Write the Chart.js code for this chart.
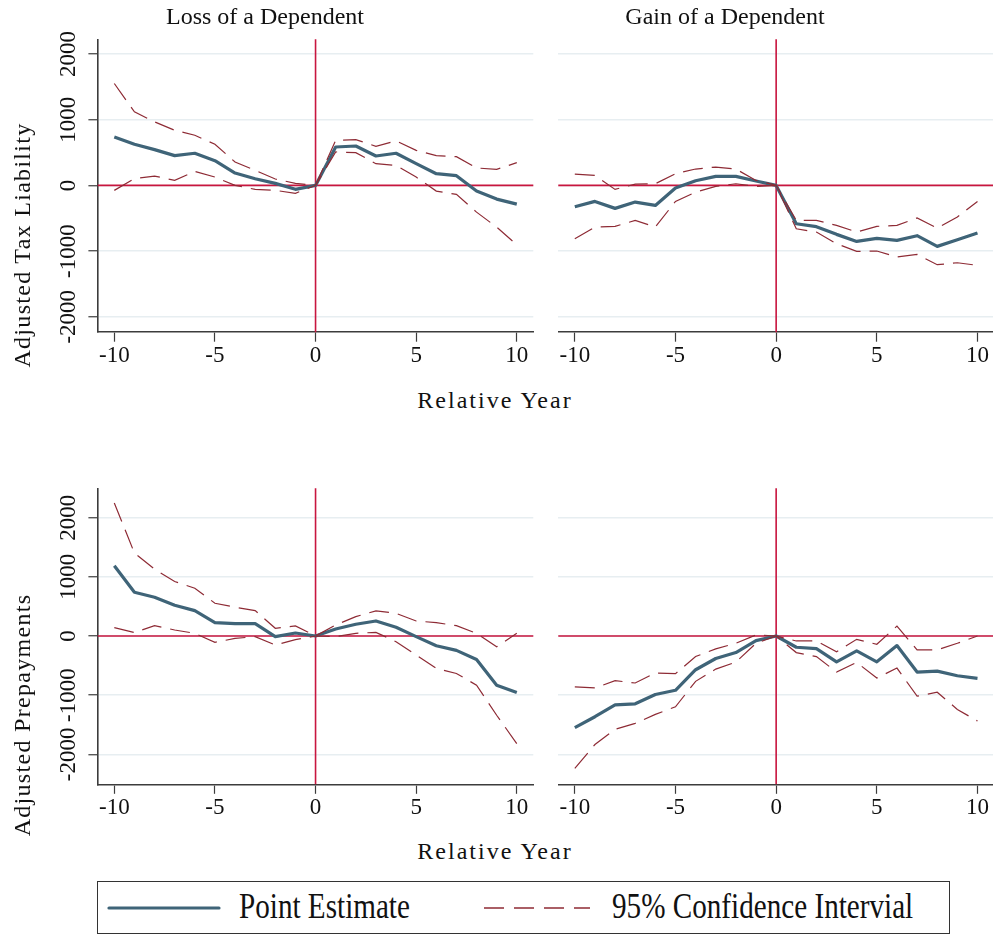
<!DOCTYPE html>
<html lang="en">
<head>
<meta charset="UTF-8" />
<title>Adjusted Tax Liability and Prepayments</title>
<script src="https://cdn.jsdelivr.net/npm/chart.js"></script>
<style>
  body { margin: 0; background: #fff; }
  #page { position: relative; width: 993px; height: 934px; overflow: hidden; font-family: "Liberation Serif", serif; color: #111; }
  canvas { position: absolute; }
  .txt { position: absolute; white-space: nowrap; font-size: 24px; line-height: 24px; text-align: center; }
  .ytitle { width: 320px; transform: rotate(-90deg); letter-spacing: 1.3px; }
  .xtitle { width: 300px; letter-spacing: 2px; }
  #legend { position: absolute; left: 97px; top: 881px; width: 853px; height: 53px; border: 1.3px solid #333; box-sizing: border-box; }
  #legend svg { position: absolute; left: 0; top: 0; }
  .leg { position: absolute; font-size: 36px; line-height: 36px; white-space: nowrap; transform: scaleX(0.81); transform-origin: left center; }
</style>
</head>
<body>
<div id="page">
  <canvas id="lossTax"></canvas>
  <canvas id="gainTax"></canvas>
  <canvas id="lossPre"></canvas>
  <canvas id="gainPre"></canvas>

  <div class="txt" style="left:65px; top:4px; width:400px;">Loss of a Dependent</div>
  <div class="txt" style="left:525px; top:4px; width:400px;">Gain of a Dependent</div>
  <div class="txt xtitle" style="left:345px; top:388px;">Relative Year</div>
  <div class="txt xtitle" style="left:345px; top:839px;">Relative Year</div>
  <div class="txt ytitle" style="left:-138px; top:233px;">Adjusted Tax Liability</div>
  <div class="txt ytitle" style="left:-138px; top:703px;">Adjusted Prepayments</div>

  <div id="legend">
    <svg width="853" height="53">
      <line x1="11" y1="26" x2="121" y2="26" stroke="#3f6478" stroke-width="3.2" stroke-linecap="round"/>
      <line x1="386" y1="26" x2="492" y2="26" stroke="#8e2b35" stroke-width="1.3" stroke-dasharray="20 10"/>
    </svg>
    <span class="leg" style="left:141px; top:6px;">Point Estimate</span>
    <span class="leg" style="left:514px; top:6px;">95% Confidence Intervial</span>
  </div>
</div>

<script>
  // relative years
  const years = [-10, -9, -8, -7, -6, -5, -4, -3, -2, -1, 0, 1, 2, 3, 4, 5, 6, 7, 8, 9, 10];
  const xTicks = [-10, -5, 0, 5, 10];
  const yTicks = [-2000, -1000, 0, 1000, 2000];

  // Loss of a dependent, tax liability
  const lossTaxEst = [738, 626, 545, 453, 489, 377, 188, 102, 31, -60, 0, 585, 600, 448, 489, 331, 178, 148, -87, -209, -285];
  const lossTaxHi  = [1552, 1120, 967, 840, 763, 626, 356, 229, 97, 32, 0, 687, 697, 595, 677, 534, 453, 438, 265, 244, 346];
  const lossTaxLo  = [-76, 102, 142, 76, 214, 127, 0, -61, -76, -120, 0, 509, 499, 331, 305, 127, -87, -137, -407, -636, -906];

  // Gain of a dependent, tax liability
  const gainTaxEst = [-325, -244, -350, -254, -305, -41, 71, 137, 137, 66, 0, -584, -629, -746, -853, -807, -838, -766, -929, -827, -726];
  const gainTaxHi  = [173, 152, -61, 20, 25, 178, 249, 279, 249, 76, 0, -533, -533, -609, -711, -624, -609, -497, -650, -482, -244];
  const gainTaxLo  = [-812, -635, -624, -533, -635, -244, -102, -15, 25, -15, 0, -660, -711, -888, -1005, -1000, -1091, -1051, -1208, -1178, -1218];

  // Loss of a dependent, prepayments
  const lossPreEst = [1186, 740, 655, 520, 429, 226, 209, 209, -11, 51, 0, 119, 198, 254, 147, -11, -164, -243, -396, -831, -955];
  const lossPreHi  = [2249, 1401, 1130, 921, 808, 554, 486, 429, 130, 170, 0, 186, 328, 424, 384, 254, 226, 175, 45, -181, 45];
  const lossPreLo  = [141, 57, 175, 102, 45, -107, -40, -11, -153, -62, 0, -11, 45, 62, -96, -322, -548, -633, -831, -1339, -1819];

  // Gain of a dependent, prepayments
  const gainPreEst = [-1548, -1364, -1163, -1146, -989, -917, -570, -380, -280, -78, 0, -190, -212, -436, -252, -436, -162, -609, -593, -671, -716];
  const gainPreHi  = [-861, -878, -755, -794, -626, -637, -347, -218, -123, 17, 0, -84, -84, -268, -56, -140, 168, -235, -235, -123, 0];
  const gainPreLo  = [-2236, -1834, -1576, -1476, -1325, -1196, -766, -559, -442, -123, 0, -280, -347, -609, -447, -710, -542, -1017, -950, -1241, -1437];

  const estColor = '#3f6478';
  const ciColor = '#8e2b35';
  const refColor = '#c8163f';
  const gridColor = '#e7eef1';
  const axisColor = '#3c3c3c';
  const tickFont = { family: 'Liberation Serif', size: 23 };

  // red lines at zero on both axes
  const zeroLines = {
    id: 'zeroLines',
    beforeDatasetsDraw(chart) {
      const { ctx, chartArea: a, scales: { x, y } } = chart;
      const x0 = x.getPixelForValue(0);
      const y0 = y.getPixelForValue(0);
      ctx.save();
      ctx.strokeStyle = refColor;
      ctx.lineWidth = 1.6;
      ctx.beginPath();
      ctx.moveTo(x0, a.top); ctx.lineTo(x0, a.bottom);
      ctx.moveTo(a.left, y0); ctx.lineTo(a.right, y0);
      ctx.stroke();
      ctx.restore();
    }
  };

  function points(vals) {
    return years.map((yr, i) => ({ x: yr, y: vals[i] }));
  }

  function makePanel(id, est, hi, lo, box) {
    const cv = document.getElementById(id);
    cv.width = box.w; cv.height = box.h;
    cv.style.left = box.x + 'px'; cv.style.top = box.y + 'px';

    const ci = vals => ({
      data: points(vals), borderColor: ciColor, borderWidth: 1.2,
      borderDash: [20, 9], pointRadius: 0, tension: 0
    });

    new Chart(cv, {
      type: 'line',
      data: {
        datasets: [
          ci(hi),
          ci(lo),
          { data: points(est), borderColor: estColor, borderWidth: 3.2, pointRadius: 0, tension: 0, borderJoinStyle: 'round' }
        ]
      },
      options: {
        responsive: false,
        animation: false,
        events: [],
        layout: { padding: { left: box.showY ? 0 : box.aL, top: box.aT, right: box.w - box.aR, bottom: 0 } },
        plugins: { legend: { display: false }, tooltip: { enabled: false } },
        scales: {
          x: {
            type: 'linear', min: -10.82, max: 10.82,
            afterBuildTicks: s => { s.ticks = xTicks.map(v => ({ value: v })); },
            afterFit: s => { s.height = box.h - box.aB; s.paddingLeft = 0; s.paddingRight = 0; },
            ticks: { font: tickFont, color: '#111', padding: 0, maxRotation: 0, callback: v => String(v) },
            grid: { drawOnChartArea: false, tickColor: axisColor, tickLength: 9.5, tickWidth: 1.2 },
            border: { color: axisColor, width: 1.6 }
          },
          y: {
            type: 'linear', min: box.yMin, max: box.yMax,
            afterBuildTicks: s => { s.ticks = yTicks.map(v => ({ value: v })); },
            afterFit: s => { s.width = box.showY ? box.aL : 0; s.paddingTop = 0; s.paddingBottom = 0; },
            ticks: {
              display: box.showY, font: tickFont, color: '#111', padding: -7,
              minRotation: 90, maxRotation: 90, crossAlign: 'center', callback: v => String(v)
            },
            grid: { color: gridColor, lineWidth: 1.5, drawTicks: box.showY, tickColor: axisColor, tickLength: 9.4, tickWidth: 1.2 },
            border: { display: box.showY, color: axisColor, width: 1.6 }
          }
        }
      },
      plugins: [zeroLines]
    });
  }

  const topRange = { yMin: -2236, yMax: 2225 };
  const botRange = { yMin: -2506, yMax: 2496 };

  makePanel('lossTax', lossTaxEst, lossTaxHi, lossTaxLo,
    Object.assign({ x: 0, y: 0, w: 545, h: 380, aL: 97.8, aR: 533.3, aT: 39.3, aB: 332.2, showY: true }, topRange));
  makePanel('gainTax', gainTaxEst, gainTaxHi, gainTaxLo,
    Object.assign({ x: 545, y: 0, w: 449, h: 380, aL: 13.3, aR: 449, aT: 39.3, aB: 332.2, showY: false }, topRange));
  makePanel('lossPre', lossPreEst, lossPreHi, lossPreLo,
    Object.assign({ x: 0, y: 450, w: 545, h: 380, aL: 97.8, aR: 533.3, aT: 38.3, aB: 334.3, showY: true }, botRange));
  makePanel('gainPre', gainPreEst, gainPreHi, gainPreLo,
    Object.assign({ x: 545, y: 450, w: 449, h: 380, aL: 13.3, aR: 449, aT: 38.3, aB: 334.3, showY: false }, botRange));
</script>
</body>
</html>
